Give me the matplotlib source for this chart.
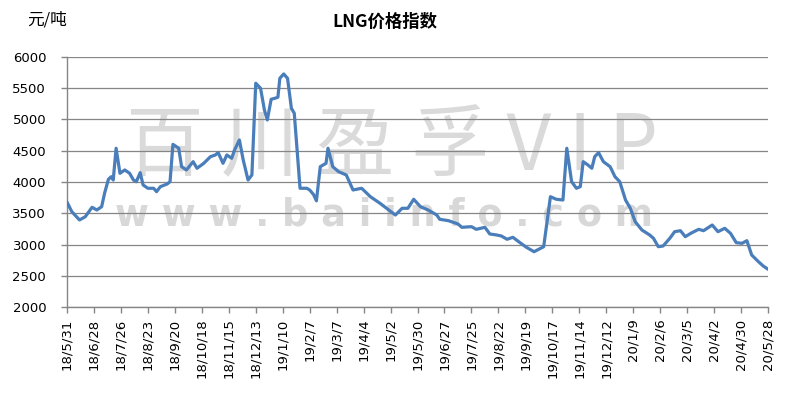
import pandas as pd
import matplotlib
matplotlib.use("Agg")
import matplotlib.pyplot as plt

# === Data (days since 2018-05-31, yuan/ton) ===
start_date = "2018-05-31"

day_offset = [
    0, 5, 13, 19, 26, 31, 36, 39, 43, 46, 48, 51, 55, 60, 65, 69, 72, 76, 79, 84,
    90, 93, 97, 104, 107, 110, 116, 119, 124, 131, 135, 142, 149, 154, 157, 162, 166, 171, 174, 179,
    183, 188, 192, 196, 201, 205, 208, 212, 216, 219, 221, 225, 229, 233, 236, 242, 249, 252, 256, 259,
    263, 269, 271, 276, 282, 290, 297, 306, 315, 325, 341, 348, 354, 360, 367, 375, 384, 387, 396, 406,
    410, 420, 425, 434, 439, 446, 451, 457, 463, 469, 477, 485, 495, 502, 508, 515, 519, 524, 529, 533,
    536, 541, 545, 548, 552, 557, 564, 569, 574, 580, 585, 590, 597, 605, 609, 614, 619, 626, 631, 637,
    642, 649, 656, 661, 670, 676, 683, 689, 695, 701, 706, 711, 718, 723, 728,
]

lng_price = [
    3680, 3527, 3395, 3447, 3597, 3554, 3607, 3820, 4043, 4085, 4032, 4538, 4139, 4192, 4139, 4032, 4005, 4149, 3953, 3900,
    3900, 3846, 3926, 3968, 4005, 4600, 4538, 4244, 4192, 4324, 4219, 4298, 4404, 4431, 4468, 4298, 4431, 4378, 4510, 4670,
    4351, 4032, 4112, 5574, 5494, 5148, 4989, 5319, 5335, 5351, 5653, 5722, 5653, 5175, 5096, 3900, 3900, 3873, 3800, 3700,
    4244, 4298, 4538, 4244, 4165, 4112, 3873, 3900, 3766, 3661, 3474, 3581, 3581, 3725, 3607, 3554, 3474, 3406, 3384, 3331,
    3278, 3288, 3246, 3278, 3172, 3156, 3140, 3087, 3119, 3049, 2960, 2889, 2969, 3766, 3725, 3713, 4538, 4005, 3900, 3926,
    4324, 4271, 4219, 4404, 4468, 4324, 4244, 4085, 4005, 3713, 3581, 3368, 3235, 3156, 3103, 2969, 2980, 3103, 3208, 3224,
    3129, 3193, 3246, 3224, 3315, 3208, 3262, 3182, 3033, 3023, 3065, 2837, 2730, 2661, 2609,
]

tick_labels = [
    "18/5/31", "18/6/28", "18/7/26", "18/8/23", "18/9/20", "18/10/18", "18/11/15",
    "18/12/13", "19/1/10", "19/2/7", "19/3/7", "19/4/4", "19/5/2", "19/5/30",
    "19/6/27", "19/7/25", "19/8/22", "19/9/19", "19/10/17", "19/11/14", "19/12/12",
    "20/1/9", "20/2/6", "20/3/5", "20/4/2", "20/4/30", "20/5/28",
]

y_ticks = [2000, 2500, 3000, 3500, 4000, 4500, 5000, 5500, 6000]

title_text = "LNG价格指数"
unit_text = "元/吨"

# === Build the figure ===
plt.rcParams['font.family'] = ['DejaVu Sans', 'Noto Sans CJK SC']

dates = pd.to_datetime(start_date) + pd.to_timedelta(day_offset, unit="D")
tick_dates = pd.date_range(start_date, periods=len(tick_labels), freq="28D")

fig = plt.figure(figsize=(7.91, 3.98), dpi=100)
ax = fig.add_axes([0.0847, 0.2274, 0.8863, 0.6306])

# watermark (behind the grid)
fig.text(0.4956, 0.626, "百 川 盈 孚 V I P", fontsize=56, color="#dadada",
         family=['Noto Sans CJK SC'], ha="center", va="center", zorder=-1)
fig.text(0.485, 0.46, "w w w . b a i i n f o . c o m", fontsize=26.5, color="#d8d8d8",
         fontweight="bold", ha="center", va="center", zorder=-1)

ax.set_facecolor("none")
ax.plot(dates, lng_price, color="#4a7ebb", linewidth=2.3,
        solid_joinstyle="round", solid_capstyle="round", zorder=3)

ax.set_ylim(2000, 6000)
ax.set_yticks(y_ticks)
ax.set_xlim(tick_dates[0], tick_dates[-1])
ax.set_xticks(tick_dates)
ax.set_xticklabels(tick_labels, rotation=90)

ax.grid(axis="y", color="#868686", linewidth=0.9)
ax.set_axisbelow(True)
for side in ["top", "right"]:
    ax.spines[side].set_visible(False)
for side in ["left", "bottom"]:
    ax.spines[side].set_color("#868686")
    ax.spines[side].set_linewidth(1.0)

ax.tick_params(axis="y", length=4, width=1, color="#868686", pad=11, labelsize=9.5)
ax.tick_params(axis="x", length=4, width=1, color="#868686", pad=4, labelsize=9.5)

fig.text(0.487, 0.945, title_text, fontsize=12.5, fontweight="bold",
         family=['Noto Sans CJK SC', 'DejaVu Sans'], ha="center", va="center")
fig.text(0.034, 0.95, unit_text, fontsize=12,
         family=['Noto Sans CJK SC', 'DejaVu Sans'], ha="left", va="center")

fig.savefig("out.png", dpi=100)
